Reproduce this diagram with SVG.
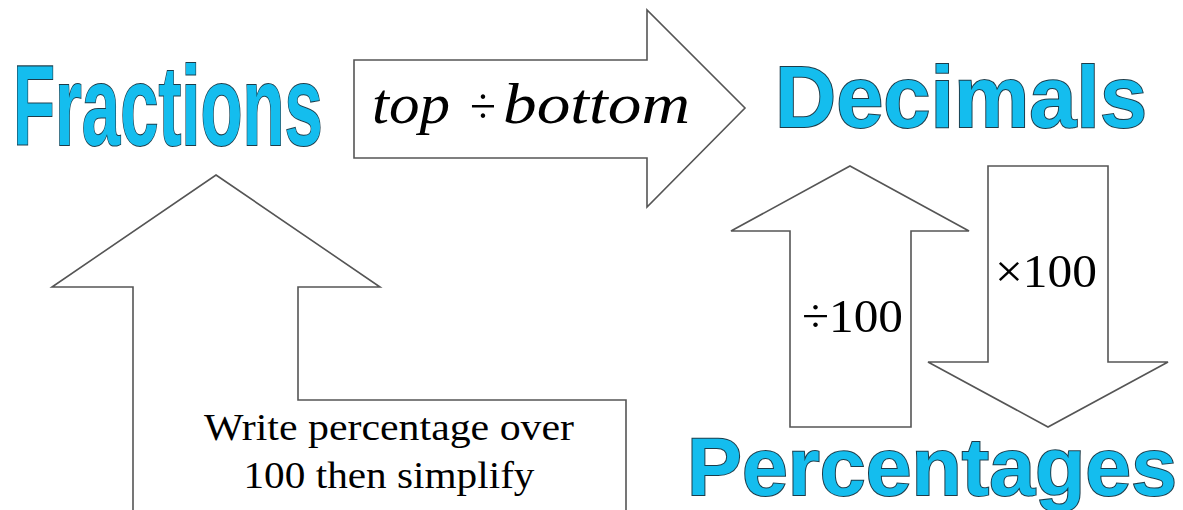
<svg xmlns="http://www.w3.org/2000/svg" width="1183" height="510" viewBox="0 0 1183 510">
<style>
.arrow{fill:#fff;stroke:#555;stroke-width:1.6;stroke-linejoin:miter}
.big{font-family:"Liberation Sans",Arial,sans-serif;font-weight:bold;fill:#14BDEE;stroke:#1d3c4a;stroke-width:2;paint-order:stroke}
.math{font-family:"Liberation Serif","Times New Roman",serif;fill:#000}
</style>
<rect width="1183" height="510" fill="#fff"/>
<g id="connectors">
<g id="arrow-top-bottom">
<polygon class="arrow" points="354,60 647,60 647,10 745,108 647,207 647,158 354,158"/>
<text class="math" x="372" y="123" font-size="58" font-style="italic" textLength="78" lengthAdjust="spacingAndGlyphs">top</text>
<text class="math" x="470" y="123" font-size="50" textLength="26" lengthAdjust="spacingAndGlyphs">÷</text>
<text class="math" x="503" y="123" font-size="58" font-style="italic" textLength="187" lengthAdjust="spacingAndGlyphs">bottom</text>
</g>
<g id="arrow-div100">
<polygon class="arrow" points="850,166 969,231 911,231 911,427 790,427 790,231 731,231"/>
<text class="math" x="802" y="332" font-size="47" textLength="101" lengthAdjust="spacingAndGlyphs">÷100</text>
</g>
<g id="arrow-times100">
<polygon class="arrow" points="988,166 1108,166 1108,362 1168,362 1048,427 928,362 988,362"/>
<text class="math" x="995" y="287" font-size="47" textLength="102" lengthAdjust="spacingAndGlyphs">×100</text>
</g>
<g id="arrow-write-percentage">
<polygon class="arrow" points="216,175 380,287 298,287 298,400 626,400 626,512 133,512 133,287 52,287"/>
<text class="math" x="389" y="440" font-size="37" text-anchor="middle" textLength="370" lengthAdjust="spacingAndGlyphs">Write percentage over</text>
<text class="math" x="389" y="488" font-size="37" text-anchor="middle" textLength="291" lengthAdjust="spacingAndGlyphs">100 then simplify</text>
</g>
</g>
<g id="fractions">
<text class="big" transform="matrix(0.604 0 0 1 13 145)" x="0" y="0" font-size="114" stroke-width="2.6">Fractions</text>
</g>
<g id="decimals">
<text class="big" x="775" y="127" font-size="87" textLength="372" lengthAdjust="spacingAndGlyphs">Decimals</text>
</g>
<g id="percentages">
<text class="big" x="687" y="495" font-size="81" textLength="490" lengthAdjust="spacingAndGlyphs">Percentages</text>
</g>
</svg>
